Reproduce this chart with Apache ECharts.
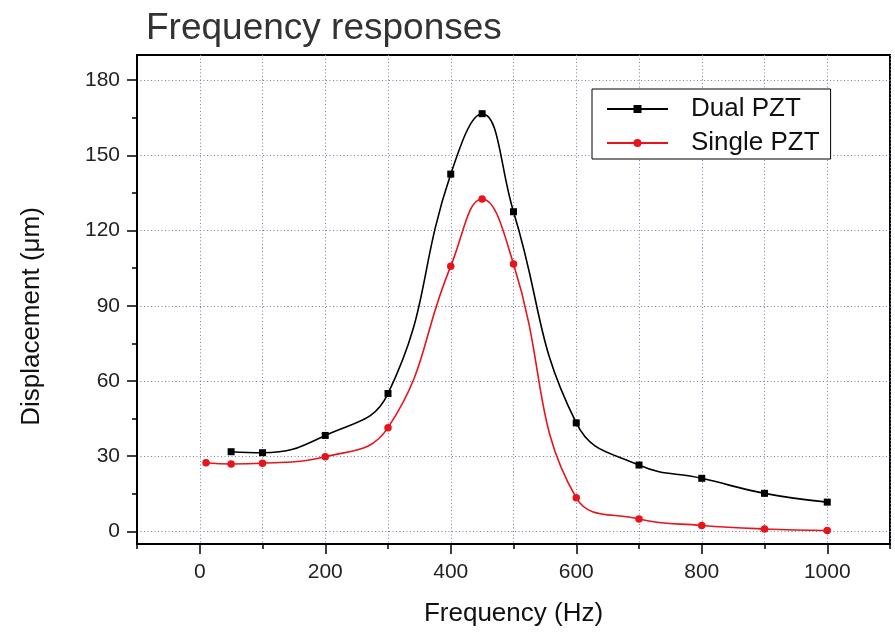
<!DOCTYPE html>
<html>
<head>
<meta charset="utf-8">
<script src="https://cdn.jsdelivr.net/npm/echarts@6/dist/echarts.min.js"></script>
<style>
html,body{margin:0;padding:0;background:#fff;}
#chart{width:895px;height:632px;}
</style>
</head>
<body>
<div id="chart"></div>
<script>
// ---- data ----
const titleText = 'Frequency responses';
const xName = 'Frequency (Hz)';
const yName = 'Displacement (\u03bcm)';
const seriesNames = ['Dual PZT', 'Single PZT'];
const dualX = [50, 100, 200, 300, 400, 450, 500, 600, 700, 800, 900, 1000];
const dualY = [31.8, 31.4, 38.3, 55.0, 142.5, 166.6, 127.5, 43.3, 26.5, 21.2, 15.2, 11.7];
const singleX = [10, 50, 100, 200, 300, 400, 450, 500, 600, 700, 800, 900, 1000];
const singleY = [27.4, 26.9, 27.2, 29.8, 41.4, 105.8, 132.6, 106.7, 13.4, 5.0, 2.4, 1.0, 0.4];
const xMajorTicks = [0, 200, 400, 600, 800, 1000];
const yMajorTicks = [0, 30, 60, 90, 120, 150, 180];
const yMinorTicks = [15, 45, 75, 105, 135, 165];

const FONT = '"Liberation Sans", Arial, sans-serif';
const gridLine = { show: true, lineStyle: { color: '#7c7ca6', width: 1, type: [1, 2.5] } };

const chart = echarts.init(document.getElementById('chart'), null, { renderer: 'canvas' });
chart.setOption({
  backgroundColor: '#fff',
  animation: false,
  title: {
    text: titleText, left: 146, top: 10, padding: 0,
    textStyle: { fontFamily: FONT, fontSize: 37, fontWeight: 'normal', color: '#333' }
  },
  legend: {
    orient: 'vertical', left: 592, top: 89,
    padding: [7, 11, 3, 14], itemGap: 8, itemWidth: 61, itemHeight: 10,
    borderColor: '#000', borderWidth: 1, backgroundColor: '#fff',
    data: seriesNames,
    textStyle: { fontFamily: FONT, fontSize: 26, color: '#111', lineHeight: 26, padding: [0, 0, 0, 18] }
  },
  grid: { left: 137, right: 5, top: 55, bottom: 86, show: true, borderColor: '#000', borderWidth: 2, containLabel: false },
  xAxis: [
    {
      type: 'value', min: -100, max: 1100, interval: 100, position: 'bottom',
      name: xName, nameLocation: 'middle', nameGap: 57,
      nameTextStyle: { fontFamily: FONT, fontSize: 26, color: '#111' },
      axisLine: { show: true, onZero: false, lineStyle: { color: '#000', width: 2 } },
      axisTick: { show: true, inside: false, length: 5, lineStyle: { color: '#000', width: 1.5 } },
      axisLabel: {
        fontFamily: FONT, fontSize: 21, color: '#222', margin: 18,
        formatter: function (v) { return (v >= 0 && v <= 1000 && v % 200 === 0) ? String(v) : ''; }
      },
      splitLine: gridLine
    },
    {
      type: 'value', min: -100, max: 1100, position: 'bottom',
      axisLine: { show: false, onZero: false },
      axisTick: { show: true, inside: false, length: 10, customValues: xMajorTicks, lineStyle: { color: '#000', width: 1.5 } },
      axisLabel: { show: false },
      splitLine: { show: false }
    }
  ],
  yAxis: [
    {
      type: 'value', min: -5, max: 190, position: 'left',
      name: yName, nameLocation: 'middle', nameGap: 92,
      nameTextStyle: { fontFamily: FONT, fontSize: 26, color: '#111', padding: [0, 34, 0, 0] },
      axisLine: { show: true, onZero: false, lineStyle: { color: '#000', width: 2 } },
      axisTick: { show: true, inside: false, length: 10, customValues: yMajorTicks, lineStyle: { color: '#000', width: 1.5 } },
      axisLabel: { fontFamily: FONT, fontSize: 21, color: '#222', margin: 17, customValues: yMajorTicks },
      splitLine: gridLine
    },
    {
      type: 'value', min: -5, max: 190, position: 'left',
      axisLine: { show: false, onZero: false },
      axisTick: { show: true, inside: false, length: 5, customValues: yMinorTicks, lineStyle: { color: '#000', width: 1.5 } },
      axisLabel: { show: false },
      splitLine: { show: false }
    }
  ],
  series: [
    {
      name: seriesNames[0], type: 'line', xAxisIndex: 0, yAxisIndex: 0,
      data: dualX.map((x, i) => [x, dualY[i]]),
      smooth: 0.45, symbol: 'rect', symbolSize: 7, showAllSymbol: true,
      lineStyle: { color: '#000', width: 1.6 }, itemStyle: { color: '#000' }
    },
    {
      name: seriesNames[1], type: 'line', xAxisIndex: 0, yAxisIndex: 0,
      data: singleX.map((x, i) => [x, singleY[i]]),
      smooth: 0.45, symbol: 'circle', symbolSize: 7.5, showAllSymbol: true,
      lineStyle: { color: '#e8141c', width: 1.6 }, itemStyle: { color: '#e8141c' }
    }
  ]
});
</script>
</body>
</html>
